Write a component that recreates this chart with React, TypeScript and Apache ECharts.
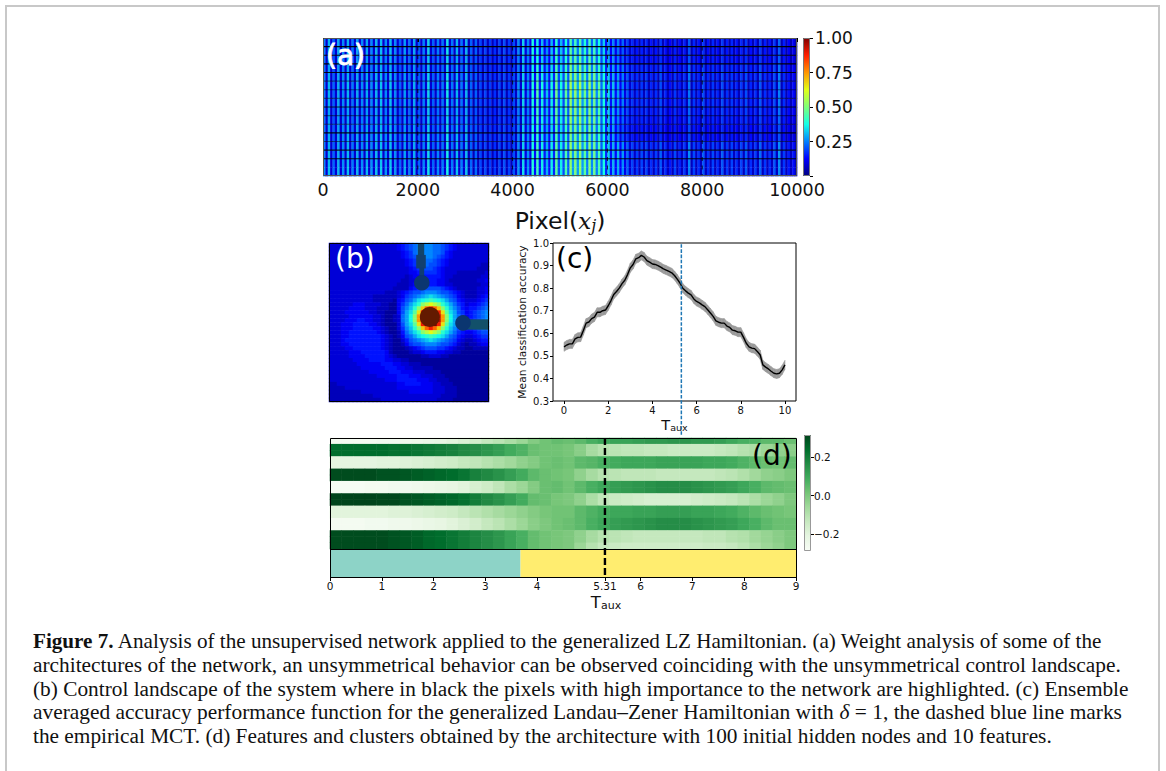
import React, { useEffect, useRef } from "react";
import * as echarts from "echarts";

// ---------- panel (a) ----------
const weightPeaks = [
  .25,.3,.22,.29,.26,.3,.24,.29,.26,.29,
  .26,.3,.31,.26,.31,.26,.22,.28,.24,.29,
  .22,.25,.33,.22,.25,.24,.35,.24,.3,.24,
  .3,.22,.22,.19,.19,.18,.17,.19,.2,.18,
  .2,.26,.33,.26,.38,.42,.36,.3,.36,.46,
  .36,.44,.52,.5,.52,.46,.5,.48,.44,.38,
  .33,.3,.28,.25,.21,.18,.17,.18,.18,.16,
  .17,.2,.16,.14,.18,.15,.17,.24,.18,.16,
  .2,.16,.18,.16,.2,.17,.18,.16,.18,.2,
  .16,.17,.21,.17,.16,.2,.25,.17,.14,.13,
];
const weightTroughs = [
  .08,.08,.08,.08,.08,.08,.08,.08,.08,.08,
  .08,.08,.08,.08,.08,.08,.08,.08,.08,.08,
  .08,.08,.08,.08,.08,.08,.08,.08,.08,.08,
  .06,.06,.06,.06,.06,.06,.06,.06,.06,.06,
  .07,.08,.1,.1,.13,.15,.15,.14,.16,.2,
  .2,.22,.28,.28,.28,.25,.26,.25,.22,.16,
  .14,.13,.12,.1,.08,.07,.06,.06,.06,.06,
  .06,.06,.06,.06,.06,.06,.06,.06,.06,.06,
  .06,.06,.06,.06,.06,.06,.06,.06,.06,.06,
  .06,.06,.06,.06,.06,.06,.06,.06,.06,.06,
];
const rowGainLeft = [1,1,.95,.95,1,1.02,1,1,.95,.95,.98,1,1,1.02,1.02,1.05];
const rowGainMid = [.85,.88,.9,.95,1,1.05,1.05,1,1,1,.95,.95,1,1,1,1];
const rowGainRight = [.9,.85,.85,.95,1,1,1,1,.95,.9,.82,.82,1.05,1.1,1.05,1.05];
const rowRuleOpacity = [.95,.9,.95,.9,.45,.45,.45,.8,.45,.5,.9,.5,.8,.9,.0];
const pixelTicks = [2000, 4000, 6000, 8000];
const jetColors = ["#00007f","#0000ff","#0080ff","#14ffe6","#7dff7a","#e1ff18","#ff9500","#ff1f00","#7f0000"];
const weightRange = [0, 1];

// ---------- panel (b) ----------
const landscapeRows = [
  "3333333333 3333333456 7899998876 5433333333",
  "3333333333 3333333456 7899998876 5433333333",
  "3333333333 3333333345 6899998875 4333333333",
  "3333333333 3333333345 6789998765 4333333333",
  "3333333333 3333333334 5678887654 3333333333",
  "3333333333 3333333334 5677877654 3333333322",
  "3333333333 3333333333 4567776543 3333333222",
  "3333333333 3333333333 4456666543 3322222223",
  "3333333333 3333333332 3445555543 3222222233",
  "3333333333 3333333322 3344555443 2222222334",
  "3333333333 3333333222 3445555443 3222222233",
  "3333333333 3333332222 4567777765 4322222334",
  "33333333333333222 34567789998776543 222334",
  "33333333333222222 346789abcba987643 222345",
  "33333333333222221 4578acdefedca8754 333456",
  "33333344433332211 468aceikmkieca865 344567",
  "33333444433322211 479beiosvsoieb975 455678",
  "33334444443322111 47acgnvzzzvngca76 456789",
  "33333444444332112 38adiqxzzzxqida86 456789",
  "33334445544332112 38adiqxzzzxqida86 456789",
  "33344455554432111 37acgnvzzzvngca76 456789",
  "33344455555443211 369beiosvsoieb975 456788",
  "33344555555543211 258aceikmkieca865 445677",
  "33344555555554321 2478acdefedca8754 334566",
  "33345555555554321 135789abcba987643 223455",
  "33344555555554321 12467789998776532 122344",
  "33334455555554321 11234567776654322 112222",
  "33333444555555421 11123345554433221 111111",
  "33333444455555432 11111122333221111 111111",
  "33333344445555443 32211111111111111 111111",
  "33333334444445554 43322211111111111 111111",
  "33333333444444555 44332222211111111 111111",
  "33333333334444455 54443332222111111 111111",
  "33333333333344444 55544433322211111 111111",
  "33333333333333444 55555444332221111 111111",
  "22333333333333333 44555544433222111 111111",
  "22223333333333333 44444444433322211 111111",
  "22222222333333333 33344444433322211 111111",
  "22222222222333333 33333333333222211 111111",
  "22222222222223333 33333333332222111 111111",
];
// high-importance pixels, in landscape cells: [x0, y0, x1, y1, colour]
const importantBars = [
  [22.2, 0, 23.8, 3.2, "#12456a"],
  [21.8, 3, 24.2, 6.4, "#12406e"],
  [22.6, 6.2, 23.8, 9, "#0f3d72"],
  [33.5, 19.2, 40, 21.8, "#12506a"],
];
const importantDots = [
  [23.2, 10, 1.95, "#0b3670"],
  [33.5, 20.1, 1.95, "#0b3670"],
  [25.2, 18.6, 2.5, "#641a00"],
];

// ---------- panel (c) ----------
const accuracy = [
  .540,.548,.553,.553,.575,.582,.583,.612,.645,
  .650,.665,.672,.693,.693,.700,.703,.722,
  .745,.772,.785,.800,.820,.835,.860,.890,
  .905,.930,.935,.945,.938,.922,.915,.907,
  .905,.900,.893,.885,.880,.874,.868,.856,
  .840,.822,.800,.788,.778,.770,.752,.741,
  .735,.726,.718,.704,.690,.675,.655,.649,
  .645,.645,.632,.626,.614,.611,.605,.605,
  .582,.556,.540,.534,.532,.519,.505,.460,
  .450,.442,.432,.423,.420,.423,.438,.460,
];
const accuracySpread = 0.02;
const taxisTicks = [0, 2, 4, 6, 8, 10];
const empiricalMct = 5.31;

// ---------- panel (d) ----------
const features = [
  [-.27,-.27,-.27,-.27,-.26,-.26,-.25,-.24,-.23,-.22,-.2,-.18,-.16,-.13,-.11,-.08,-.05,-.01,.02,.04,.03,.05,.08,.1,.11,.11,.12,.13,.13,.14,.14,.13,.13,.12,.1,.08,.07,.05,.05,.03],
  [.24,.24,.24,.24,.24,.23,.23,.22,.21,.2,.19,.17,.16,.14,.12,.09,.07,.03,.02,.02,.01,-.02,-.07,-.1,-.11,-.12,-.12,-.13,-.13,-.14,-.14,-.14,-.14,-.13,-.12,-.1,-.08,-.05,-.03,-.02],
  [-.21,-.21,-.21,-.21,-.2,-.2,-.19,-.18,-.17,-.16,-.15,-.13,-.12,-.1,-.08,-.06,-.03,-.01,.02,.03,.02,.05,.06,.08,.09,.1,.1,.1,.11,.11,.11,.11,.1,.1,.09,.07,.05,.03,.02,.04],
  [.3,.3,.3,.3,.29,.29,.28,.27,.26,.25,.24,.22,.19,.17,.15,.12,.09,.05,.03,.02,.01,-.03,-.07,-.1,-.11,-.12,-.12,-.12,-.13,-.13,-.13,-.13,-.13,-.12,-.11,-.09,-.06,-.03,-.02,0],
  [-.28,-.28,-.28,-.27,-.27,-.26,-.26,-.25,-.24,-.23,-.22,-.2,-.17,-.15,-.12,-.08,-.05,-.01,.03,.04,.02,.05,.08,.1,.12,.13,.14,.15,.16,.16,.16,.15,.14,.13,.12,.1,.08,.05,.04,.03],
  [.32,.32,.32,.32,.31,.31,.29,.28,.27,.26,.25,.23,.2,.17,.15,.12,.09,.04,.03,.01,0,-.03,-.08,-.12,-.14,-.15,-.16,-.17,-.17,-.17,-.17,-.16,-.15,-.14,-.13,-.11,-.08,-.05,-.03,0],
  [-.2,-.2,-.2,-.2,-.2,-.19,-.19,-.18,-.17,-.16,-.15,-.13,-.11,-.09,-.07,-.05,-.03,-.01,.01,.02,.02,.05,.07,.09,.1,.1,.11,.11,.12,.12,.12,.11,.11,.1,.09,.07,.05,.03,.02,.01],
  [-.27,-.27,-.27,-.26,-.26,-.25,-.25,-.24,-.23,-.22,-.2,-.18,-.16,-.13,-.11,-.08,-.05,-.02,0,.02,.03,.05,.08,.1,.12,.13,.14,.15,.16,.16,.16,.15,.14,.13,.12,.1,.08,.05,.03,.03],
  [.3,.3,.3,.3,.3,.29,.28,.27,.25,.24,.22,.2,.18,.16,.14,.11,.08,.04,.02,.01,0,-.03,-.07,-.1,-.11,-.12,-.13,-.13,-.13,-.13,-.13,-.13,-.12,-.12,-.1,-.09,-.06,-.04,-.02,0],
  [.3,.3,.3,.3,.3,.29,.28,.27,.25,.24,.22,.2,.18,.16,.14,.11,.08,.04,.02,.01,0,-.05,-.1,-.13,-.14,-.15,-.15,-.15,-.15,-.15,-.15,-.15,-.14,-.14,-.13,-.11,-.08,-.05,-.03,0],
];
const featureRowSpans = [1, 2, 2, 2, 2, 2, 2, 2, 2, 1];
const greensColors = ["#f7fcf5","#e5f5e0","#c7e9c0","#a1d99b","#74c476","#41ab5d","#238b45","#006d2c","#00441b"];
const featureRange = [-0.283, 0.315];
const featureTicks = [-0.2, 0, 0.2];
const clusterSpans = [
  { name: "cluster 0", width: 3.68, color: "#8dd3c7" },
  { name: "cluster 1", width: 5.32, color: "#ffed6f" },
];
const clusterAxisTicks = [0, 1, 2, 3, 4, 5.31, 6, 7, 8, 9];

// ---------- caption ----------
const captionLines = [
  "{b|Figure 7.} Analysis of the unsupervised network applied to the generalized LZ Hamiltonian. (a) Weight analysis of some of the",
  "architectures of the network, an unsymmetrical behavior can be observed coinciding with the unsymmetrical control landscape.",
  "(b) Control landscape of the system where in black the pixels with high importance to the network are highlighted. (c) Ensemble",
  "averaged accuracy performance function for the generalized Landau\u2013Zener Hamiltonian with {i|\u03b4} = 1, the dashed blue line marks",
  "the empirical MCT. (d) Features and clusters obtained by the architecture with 100 initial hidden nodes and 10 features.",
];
const captionY = [641, 665, 689, 712, 736];
const captionStretch = [1.031, 1.042, 1.04, 1.045, 1.04];

const SANS = "DejaVu Sans";

function buildWeightCells() {
  const cells: number[][] = [];
  for (let r = 0; r < 16; r++) {
    for (let c = 0; c < 100; c++) {
      const gain = c < 45 ? rowGainLeft[r] : c < 62 ? rowGainMid[r] : rowGainRight[r];
      cells.push([c * 2, r, weightPeaks[c] * gain]);
      cells.push([c * 2 + 1, r, weightTroughs[c] * gain]);
    }
  }
  return cells;
}

function buildLandscapeCells() {
  const cells: number[][] = [];
  landscapeRows.forEach((row, r) => {
    row.replace(/ /g, "").split("").forEach((ch, c) => {
      cells.push([c, r, parseInt(ch, 36) / 35]);
    });
  });
  return cells;
}

function buildFeatureCells() {
  const cells: number[][] = [];
  let band = 0;
  features.forEach((row, r) => {
    for (let s = 0; s < featureRowSpans[r]; s++) {
      row.forEach((v, c) => cells.push([c, band, v]));
      band++;
    }
  });
  return cells;
}

const hidden = { show: false };
function idx(n: number) {
  return Array.from({ length: n }, (_, i) => i);
}

function colorbarSeries(name: string, x: number, y: number, lo: number, hi: number, colors: string[]) {
  return {
    name,
    type: "custom",
    xAxisIndex: x,
    yAxisIndex: y,
    z: 3,
    data: [[lo, hi]],
    renderItem: (_: any, api: any) => {
      const a = api.coord([0, api.value(1)]);
      const b = api.coord([1, api.value(0)]);
      return {
        type: "rect",
        shape: { x: a[0], y: a[1], width: b[0] - a[0], height: b[1] - a[1] },
        style: {
          fill: new echarts.graphic.LinearGradient(
            0, 1, 0, 0,
            colors.map((color, i) => ({ offset: i / (colors.length - 1), color }))
          ),
        },
      };
    },
  };
}

export default function App() {
  const ref = useRef<HTMLDivElement>(null);
  useEffect(() => {
    const chart = echarts.init(ref.current!, undefined, { renderer: "svg" });
    const tickText = { color: "#111", fontFamily: SANS };
    const blackLine = { lineStyle: { color: "#000", width: 1 } };

    const grid = [
      { left: 323, top: 38, width: 474, height: 138 },
      { left: 323, top: 38, width: 474, height: 138 },
      { left: 803, top: 38, width: 7, height: 138 },
      { left: 329, top: 243, width: 160, height: 159 },
      { left: 329, top: 243, width: 160, height: 159 },
      { left: 553, top: 243, width: 243, height: 158, show: true, borderColor: "#000", borderWidth: 1, backgroundColor: "transparent" },
      { left: 330, top: 438, width: 466, height: 111 },
      { left: 330, top: 549, width: 466, height: 28 },
      { left: 330, top: 438, width: 466, height: 139 },
      { left: 804, top: 435, width: 7, height: 115 },
    ];

    const xAxis: any[] = [
      { gridIndex: 0, type: "category", data: idx(200), ...hidden },
      {
        gridIndex: 1, type: "value", min: 0, max: 10000, interval: 2000, z: 5,
        axisLine: { show: false }, splitLine: { show: false },
        axisTick: { show: true, length: 4, ...blackLine },
        axisLabel: { ...tickText, fontSize: 17.5, margin: 5, formatter: (v: number) => String(v) },
        name: "{p|Pixel}{m|(}{i|x}{s|j}{m|)}", nameLocation: "middle", nameGap: 32,
        nameTextStyle: {
          rich: {
            p: { fontFamily: SANS, fontSize: 23.5, color: "#111" },
            m: { fontFamily: SANS, fontSize: 23.5, color: "#111" },
            i: { fontFamily: "DejaVu Serif", fontStyle: "italic", fontSize: 23, color: "#111" },
            s: { fontFamily: "DejaVu Serif", fontStyle: "italic", fontSize: 16, color: "#111", padding: [9, 0, 0, 0] },
          },
        },
      },
      { gridIndex: 2, type: "value", min: 0, max: 1, ...hidden },
      { gridIndex: 3, type: "category", data: idx(40), ...hidden },
      { gridIndex: 4, type: "value", min: 0, max: 40, ...hidden },
      {
        gridIndex: 5, type: "value", min: -0.5, max: 10.5,
        axisLine: { show: false, onZero: false }, splitLine: { show: false },
        axisTick: { length: 3, customValues: taxisTicks, ...blackLine },
        axisLabel: { ...tickText, fontSize: 10, margin: 4, customValues: taxisTicks },
        name: "{t|T}{s|aux}", nameLocation: "middle", nameGap: 16,
        nameTextStyle: {
          rich: {
            t: { fontFamily: SANS, fontSize: 14.5, color: "#111" },
            s: { fontFamily: SANS, fontSize: 9.5, color: "#111", padding: [5, 0, 0, 0] },
          },
        },
      },
      { gridIndex: 6, type: "category", data: idx(40), ...hidden },
      { gridIndex: 7, type: "value", min: 0, max: 9, ...hidden },
      {
        gridIndex: 8, type: "value", min: 0, max: 9,
        axisLine: { show: false, onZero: false }, splitLine: { show: false },
        axisTick: { length: 4, customValues: clusterAxisTicks, ...blackLine },
        axisLabel: { ...tickText, fontSize: 10.5, margin: 3, customValues: clusterAxisTicks },
      },
      { gridIndex: 9, type: "value", min: 0, max: 1, ...hidden },
    ];

    const yAxis: any[] = [
      { gridIndex: 0, type: "category", inverse: true, data: idx(16), ...hidden },
      { gridIndex: 1, type: "value", min: 0, max: 16, inverse: true, ...hidden },
      {
        gridIndex: 2, type: "value", min: 0, max: 1, interval: 0.25, position: "right",
        axisLine: { show: false, onZero: false }, splitLine: { show: false },
        axisTick: { show: true, length: 3, ...blackLine },
        axisLabel: {
          ...tickText, fontSize: 17, margin: 5,
          formatter: (v: number) => (v === 0 ? "" : v.toFixed(2)),
        },
      },
      { gridIndex: 3, type: "category", inverse: true, data: idx(40), ...hidden },
      { gridIndex: 4, type: "value", min: 0, max: 40, inverse: true, ...hidden },
      {
        gridIndex: 5, type: "value", min: 0.3, max: 1, interval: 0.1,
        axisLine: { show: false, onZero: false }, splitLine: { show: false },
        axisTick: { show: true, length: 3, ...blackLine },
        axisLabel: { ...tickText, fontSize: 10, margin: 4, formatter: (v: number) => v.toFixed(1) },
        name: "Mean classification accuracy", nameLocation: "middle", nameGap: 25,
        nameTextStyle: { color: "#111", fontFamily: SANS, fontSize: 10.7 },
      },
      { gridIndex: 6, type: "category", inverse: true, data: idx(18), ...hidden },
      { gridIndex: 7, type: "category", data: ["clusters"], ...hidden },
      { gridIndex: 8, type: "value", min: 0, max: 1, ...hidden },
      {
        gridIndex: 9, type: "value", min: featureRange[0], max: featureRange[1], position: "right",
        axisLine: { show: false, onZero: false }, splitLine: { show: false },
        axisTick: { show: true, length: 3, customValues: featureTicks, ...blackLine },
        axisLabel: {
          ...tickText, fontSize: 10.5, margin: 3, customValues: featureTicks,
          formatter: (v: number) => (v < 0 ? "\u2212" : "") + Math.abs(v).toFixed(1),
        },
      },
    ];

    const series: any[] = [
      {
        name: "weights", type: "custom", xAxisIndex: 0, yAxisIndex: 0,
        data: buildWeightCells(), progressive: 0,
        renderItem: (_: any, api: any) => {
          const c = api.coord([api.value(0), api.value(1)]);
          const s = api.size([1, 1]);
          return {
            type: "rect",
            shape: { x: c[0] - s[0] / 2, y: c[1] - s[1] / 2, width: s[0] + 0.35, height: s[1] + 0.35 },
            style: { fill: api.visual("color") },
          };
        },
      },
      {
        name: "landscape", type: "heatmap", xAxisIndex: 3, yAxisIndex: 3,
        data: buildLandscapeCells(), progressive: 0,
      },
      {
        name: "features", type: "heatmap", xAxisIndex: 6, yAxisIndex: 6,
        data: buildFeatureCells(), progressive: 0,
      },
      {
        name: "row rules", type: "custom", xAxisIndex: 1, yAxisIndex: 1, z: 4,
        data: rowRuleOpacity.map((o, i) => [i + 1, o]),
        renderItem: (_: any, api: any) => {
          const a = api.coord([0, api.value(0)]);
          const b = api.coord([10000, api.value(0)]);
          return {
            type: "line",
            shape: { x1: a[0], y1: a[1], x2: b[0], y2: b[1] },
            style: { stroke: "#000", lineWidth: 1.1, opacity: api.value(1) },
          };
        },
      },
      {
        name: "pixel rules", type: "custom", xAxisIndex: 1, yAxisIndex: 1, z: 4,
        data: pixelTicks.map((t) => [t]),
        renderItem: (_: any, api: any) => {
          const a = api.coord([api.value(0), 0]);
          const b = api.coord([api.value(0), 16]);
          return {
            type: "line",
            shape: { x1: a[0], y1: a[1], x2: b[0], y2: b[1] },
            style: { stroke: "#000", lineWidth: 1, lineDash: [4, 4.5], opacity: 0.8 },
          };
        },
      },
      colorbarSeries("weight scale", 2, 2, weightRange[0], weightRange[1], jetColors),
      {
        name: "important bars", type: "custom", xAxisIndex: 4, yAxisIndex: 4, z: 4,
        data: importantBars.map((b) => ({ value: b.slice(0, 4), itemStyle: { color: b[4] } })),
        renderItem: (_: any, api: any) => {
          const a = api.coord([api.value(0), api.value(1)]);
          const b = api.coord([api.value(2), api.value(3)]);
          return {
            type: "rect",
            shape: { x: a[0], y: a[1], width: b[0] - a[0], height: b[1] - a[1] },
            style: { fill: api.visual("color") },
          };
        },
      },
      {
        name: "important dots", type: "custom", xAxisIndex: 4, yAxisIndex: 4, z: 5,
        data: importantDots.map((d) => ({ value: d.slice(0, 3), itemStyle: { color: d[3] } })),
        renderItem: (_: any, api: any) => {
          const c = api.coord([api.value(0), api.value(1)]);
          const e = api.coord([api.value(0) + api.value(2), api.value(1)]);
          return {
            type: "circle",
            shape: { cx: c[0], cy: c[1], r: e[0] - c[0] },
            style: { fill: api.visual("color") },
          };
        },
      },
      {
        name: "spread", type: "custom", xAxisIndex: 5, yAxisIndex: 5, z: 3,
        data: accuracy.map((v, i) => [i * 0.125, v - accuracySpread, v + accuracySpread]),
        renderItem: (params: any, api: any) => {
          const i = params.dataIndexInside;
          if (i === 0) return null;
          const p0 = api.coord([api.value(0, i - 1), api.value(1, i - 1)]);
          const p1 = api.coord([api.value(0), api.value(1)]);
          const p2 = api.coord([api.value(0), api.value(2)]);
          const p3 = api.coord([api.value(0, i - 1), api.value(2, i - 1)]);
          return {
            type: "polygon",
            shape: { points: [p0, p1, p2, p3] },
            style: { fill: "#9a9a9a", stroke: "#9a9a9a", lineWidth: 0.6 },
          };
        },
      },
      {
        name: "accuracy", type: "line", xAxisIndex: 5, yAxisIndex: 5, z: 4,
        symbol: "none", lineStyle: { color: "#000", width: 1.4 },
        data: accuracy.map((v, i) => [i * 0.125, v]),
      },
      {
        name: "empirical MCT", type: "custom", xAxisIndex: 5, yAxisIndex: 5, z: 5,
        data: [[empiricalMct]],
        renderItem: (_: any, api: any) => {
          const a = api.coord([api.value(0), 0.995]);
          const b = api.coord([api.value(0), 0.15]);
          return {
            type: "line",
            shape: { x1: a[0], y1: a[1], x2: b[0], y2: b[1] },
            style: { stroke: "#1f77b4", lineWidth: 1.5, lineDash: [3.6, 1.6] },
          };
        },
      },
      ...clusterSpans.map((s) => ({
        name: s.name, type: "bar", xAxisIndex: 7, yAxisIndex: 7, stack: "clusters",
        barWidth: "100%", itemStyle: { color: s.color }, data: [s.width],
      })),
      {
        name: "cluster boundary", type: "custom", xAxisIndex: 8, yAxisIndex: 8, z: 5,
        data: [[empiricalMct]],
        renderItem: (_: any, api: any) => {
          const a = api.coord([api.value(0), 1]);
          const b = api.coord([api.value(0), 0]);
          return {
            type: "line",
            shape: { x1: a[0], y1: a[1], x2: b[0], y2: b[1] },
            style: { stroke: "#000", lineWidth: 2.4, lineDash: [7, 3] },
          };
        },
      },
      colorbarSeries("feature scale", 9, 9, featureRange[0], featureRange[1], greensColors),
    ];

    const frame = (x: number, y: number, w: number, h: number, stroke: string, lineWidth = 1) => ({
      type: "rect", z: 100, silent: true,
      shape: { x, y, width: w, height: h },
      style: { fill: "transparent", stroke, lineWidth },
    });
    const panelLabel = (text: string, x: number, y: number, fill: string, stroke?: string) => ({
      type: "text", z: 101, silent: true, x, y,
      style: {
        text, fill, fontFamily: SANS, fontSize: 28, verticalAlign: "middle",
        ...(stroke ? { stroke, lineWidth: 0.8 } : {}),
      },
    });

    const graphic = [
      frame(6, 6, 1153, 800, "#c8c8c8", 2),
      frame(323.5, 38.5, 473, 137, "#555"),
      frame(803.5, 38.5, 6, 137, "#777"),
      frame(329.5, 243.5, 159, 158, "#000"),
      frame(330.5, 438.5, 466, 139, "#000"),
      { type: "line", z: 100, silent: true, shape: { x1: 330, y1: 549.5, x2: 797, y2: 549.5 }, style: { stroke: "#000", lineWidth: 1 } },
      frame(804.5, 435.5, 6, 115, "#999"),
      panelLabel("(a)", 326, 55, "#ffffff", "#ffffff"),
      panelLabel("(b)", 335, 258, "#ffffff"),
      panelLabel("(c)", 556, 258, "#000000"),
      panelLabel("(d)", 752, 455, "#000000"),
      {
        type: "text", z: 101, silent: true, x: 606, y: 602,
        style: {
          text: "{t|T}{s|aux}", align: "center", verticalAlign: "middle",
          rich: {
            t: { fontFamily: SANS, fontSize: 16.5, fill: "#111" },
            s: { fontFamily: SANS, fontSize: 11, fill: "#111", padding: [6, 0, 0, 0] },
          },
        },
      },
      ...captionLines.map((text, i) => ({
        type: "text", z: 101, silent: true, x: 33, y: captionY[i], scaleX: captionStretch[i],
        style: {
          text, fill: "#111", fontFamily: "Liberation Serif", fontSize: 20.5,
          verticalAlign: "middle",
          rich: {
            b: { fontFamily: "Liberation Serif", fontWeight: "bold", fontSize: 20.5, fill: "#111" },
            i: { fontFamily: "Liberation Serif", fontStyle: "italic", fontSize: 20.5, fill: "#111" },
          },
        },
      })),
    ];

    chart.setOption({
      animation: false,
      backgroundColor: "#ffffff",
      grid, xAxis, yAxis, series, graphic,
      visualMap: [
        { show: false, seriesIndex: 0, dimension: 2, min: 0, max: 1, inRange: { color: jetColors } },
        { show: false, seriesIndex: 1, dimension: 2, min: 0, max: 1, inRange: { color: jetColors } },
        { show: false, seriesIndex: 2, dimension: 2, min: featureRange[0], max: featureRange[1], inRange: { color: greensColors } },
      ],
    });
    return () => chart.dispose();
  }, []);
  return <div ref={ref} style={{ position: "absolute", left: 0, top: 0, width: 1166, height: 771 }} />;
}
